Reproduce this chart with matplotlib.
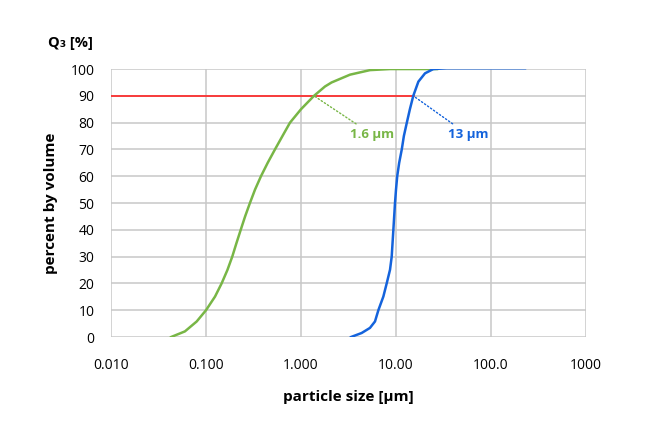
import matplotlib
matplotlib.use('Agg')
import matplotlib.pyplot as plt

plt.rcParams['font.family'] = ['Open Sans', 'DejaVu Sans']

""" --- data read from the chart --- """
green_size = [0.0429, 0.060, 0.0798, 0.100, 0.1245, 0.146, 0.168, 0.189, 0.209,
              0.232, 0.258, 0.290, 0.328, 0.379, 0.446, 0.532, 0.638, 0.766,
              1.00, 1.37, 1.79, 2.10, 3.28, 5.32, 8.65, 27.0]
green_q3 = [0, 2.1, 5.8, 10, 15.1, 20, 25, 30, 35,
            40, 45, 50, 55, 60, 65, 70, 75, 80,
            85, 90, 93.5, 95, 97.9, 99.6, 100, 100]

blue_size = [3.36, 4.35, 5.32, 6.01, 6.52, 7.36, 7.98, 8.65, 9.01, 9.38, 9.76,
             10.0, 10.3, 10.8, 11.5, 12.1, 13.0, 14.0, 15.2, 17.2, 20.2, 24.7,
             34.2, 228.0]
blue_q3 = [0, 1.5, 3.4, 5.8, 10, 15.1, 20, 25.1, 30, 40, 50,
           55, 60, 65, 70, 75, 80, 85, 90, 95.3, 98.4, 100,
           100.3, 100.3]

red_size = [0.01, 15.4]
red_q3 = [90, 90]

d90_green = 1.37
d90_blue = 15.2
x_ticks = [0.01, 0.1, 1, 10, 100, 1000]
x_tick_labels = ['0.010', '0.100', '1.000', '10.00', '100.0', '1000']
y_ticks = list(range(0, 101, 10))

GREEN = '#78b646'
BLUE = '#1463dc'
RED = '#ff2222'


def main_plot():
    fig = plt.figure(figsize=(6.56, 4.37), dpi=100)
    ax = fig.add_axes([0.1692, 0.2288, 0.7241, 0.6132])

    ax.plot(red_size, red_q3, color=RED, lw=1.2, zorder=3)
    ax.plot(green_size, green_q3, color=GREEN, lw=1.8, zorder=4,
            solid_joinstyle='round')
    ax.plot(blue_size, blue_q3, color=BLUE, lw=1.8, zorder=4,
            solid_joinstyle='round')

    ax.annotate('1.6 µm', xy=(d90_green, 90), xytext=(3.3, 75.5),
                color=GREEN, fontsize=9.5, fontweight='bold', ha='left', va='center',
                arrowprops=dict(arrowstyle='-', linestyle=':', color=GREEN, lw=1.0,
                                shrinkA=2, shrinkB=1))
    ax.annotate('13 µm', xy=(d90_blue, 90), xytext=(35.0, 75.5),
                color=BLUE, fontsize=9.5, fontweight='bold', ha='left', va='center',
                arrowprops=dict(arrowstyle='-', linestyle=':', color=BLUE, lw=1.0,
                                shrinkA=2, shrinkB=1))

    ax.set_xscale('log')
    ax.set_xlim(0.01, 1000)
    ax.set_ylim(0, 100)
    ax.set_xticks(x_ticks)
    ax.set_xticklabels(x_tick_labels)
    ax.minorticks_off()
    ax.set_yticks(y_ticks)
    ax.tick_params(axis='x', length=0, pad=15, labelsize=10)
    ax.tick_params(axis='y', length=0, pad=12, labelsize=10)
    ax.grid(True, color='#c8c8c8', lw=1.1)
    ax.set_axisbelow(True)
    for s in ax.spines.values():
        s.set_visible(False)

    ax.set_xlabel('particle size [µm]', fontsize=11, fontweight='bold', labelpad=12)
    ax.set_ylabel('percent by volume', fontsize=11, fontweight='bold', labelpad=9)
    fig.text(70 / 656, 1 - 43 / 437, 'Q₃ [%]', fontsize=10.5, fontweight='bold',
             ha='center', va='center')

    fig.savefig('out.png', dpi=100)


if __name__ == '__main__':
    main_plot()
